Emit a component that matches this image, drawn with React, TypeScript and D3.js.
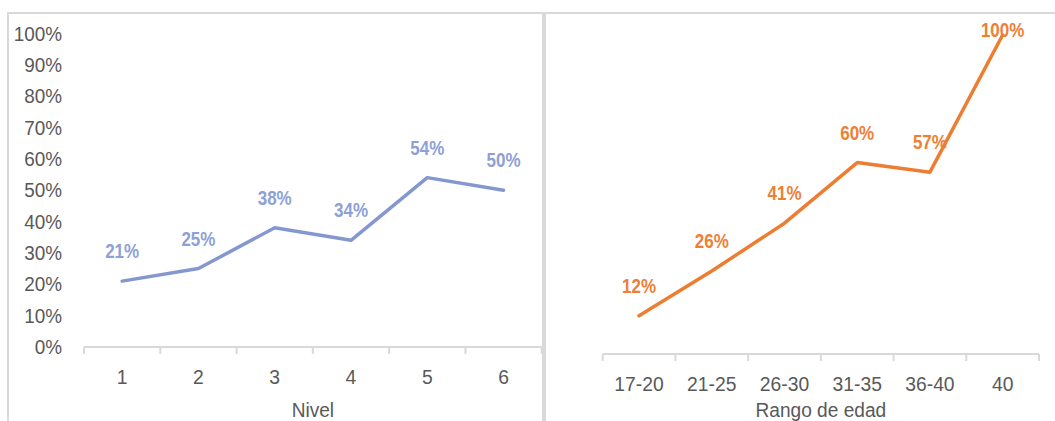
import React, { useEffect, useRef } from "react";
import * as d3 from "d3";

const nivelCategories = ["1", "2", "3", "4", "5", "6"];
const nivelValues = [0.21, 0.25, 0.38, 0.34, 0.54, 0.5];

const edadCategories = ["17-20", "21-25", "26-30", "31-35", "36-40", "40"];
const edadValues = [0.12, 0.26, 0.41, 0.6, 0.57, 1.0];

const yTicks = [0, 0.1, 0.2, 0.3, 0.4, 0.5, 0.6, 0.7, 0.8, 0.9, 1.0];

const width = 1055;
const height = 421;
const font = "'Liberation Sans', Arial, sans-serif";
const gridGrey = "#D9D9D9";
const textGrey = "#595959";

interface PanelProps {
  categories: string[];
  values: number[];
  title: string;
  xRange: [number, number];
  yRange: [number, number];
  lineColor: string;
  labelColor: string;
  showYAxis: boolean;
}

const LinePanel: React.FC<PanelProps> = ({
  categories,
  values,
  title,
  xRange,
  yRange,
  lineColor,
  labelColor,
  showYAxis,
}) => {
  const ref = useRef<SVGGElement | null>(null);

  useEffect(() => {
    if (!ref.current) return;
    const g = d3.select(ref.current);
    g.selectAll("*").remove();

    const x = d3.scaleBand<string>().domain(categories).range(xRange).padding(0);
    const y = d3.scaleLinear().domain([0, 1]).range(yRange);
    const axisY = y(0);

    // y axis labels (no line, no ticks)
    if (showYAxis) {
      g.append("g")
        .attr("transform", `translate(62,0)`)
        .call(d3.axisLeft(y).tickValues(yTicks).tickSize(0).tickPadding(0).tickFormat(d3.format(".0%") as any))
        .call((a) => a.select(".domain").remove())
        .selectAll("text")
        .attr("fill", textGrey)
        .attr("font-size", 21)
        .attr("font-family", font)
        .attr("transform", "scale(0.9,1)");
    }

    // category axis: line + boundary ticks
    g.append("line")
      .attr("x1", xRange[0])
      .attr("x2", xRange[1])
      .attr("y1", axisY)
      .attr("y2", axisY)
      .attr("stroke", gridGrey)
      .attr("stroke-width", 2);

    const bounds = categories.map((c) => x(c) as number).concat([xRange[1]]);
    g.selectAll(".bound")
      .data(bounds)
      .enter()
      .append("line")
      .attr("x1", (d) => d)
      .attr("x2", (d) => d)
      .attr("y1", axisY)
      .attr("y2", axisY + 7)
      .attr("stroke", gridGrey)
      .attr("stroke-width", 2);

    g.append("g")
      .attr("transform", `translate(0,${axisY})`)
      .call(d3.axisBottom(x).tickSize(0))
      .call((a) => a.select(".domain").remove())
      .selectAll("text")
      .attr("y", 37.5)
      .attr("dy", 0)
      .attr("fill", textGrey)
      .attr("font-size", 21)
      .attr("font-family", font)
      .attr("transform", "scale(0.92,1)");

    g.append("text")
      .attr("transform", `translate(${(xRange[0] + xRange[1]) / 2},416.5) scale(0.91,1)`)
      .attr("text-anchor", "middle")
      .attr("fill", textGrey)
      .attr("font-size", 21)
      .attr("font-family", font)
      .text(title);

    const cx = (i: number) => (x(categories[i]) as number) + x.bandwidth() / 2;

    const line = d3
      .line<number>()
      .x((_, i) => cx(i))
      .y((d) => y(d));

    g.append("path")
      .datum(values)
      .attr("d", line)
      .attr("fill", "none")
      .attr("stroke", lineColor)
      .attr("stroke-width", 3.5)
      .attr("stroke-linejoin", "round")
      .attr("stroke-linecap", "round");

    // data labels above the points, kept inside the plot top
    g.selectAll(".lbl")
      .data(values)
      .enter()
      .append("text")
      .attr("transform", (d, i) => `translate(${cx(i)},${Math.max(y(d) - 23, 37)}) scale(0.85,1)`)
      .attr("text-anchor", "middle")
      .attr("fill", labelColor)
      .attr("font-size", 20)
      .attr("font-weight", "bold")
      .attr("font-family", font)
      .text((d) => d3.format(".0%")(d));
  }, [categories, values, title, xRange, yRange, lineColor, labelColor, showYAxis]);

  return <g ref={ref} />;
};

export default function App() {
  return (
    <div style={{ position: "absolute", left: 0, top: 0, background: "#fff" }}>
      <svg width={width} height={height} style={{ display: "block" }}>
        <rect x={0} y={0} width={width} height={height} fill="#fff" />
        <rect x={8} y={13} width={535} height={430} fill="none" stroke={gridGrey} strokeWidth={2} />
        <rect x={545} y={13} width={530} height={430} fill="none" stroke={gridGrey} strokeWidth={2} />
        <LinePanel
          categories={nivelCategories}
          values={nivelValues}
          title="Nivel"
          xRange={[84, 541.7]}
          yRange={[347, 33.3]}
          lineColor="#8497CF"
          labelColor="#8EA1D6"
          showYAxis={true}
        />
        <LinePanel
          categories={edadCategories}
          values={edadValues}
          title="Rango de edad"
          xRange={[602.7, 1039]}
          yRange={[354, 35]}
          lineColor="#ED7D31"
          labelColor="#EE8035"
          showYAxis={false}
        />
      </svg>
    </div>
  );
}
